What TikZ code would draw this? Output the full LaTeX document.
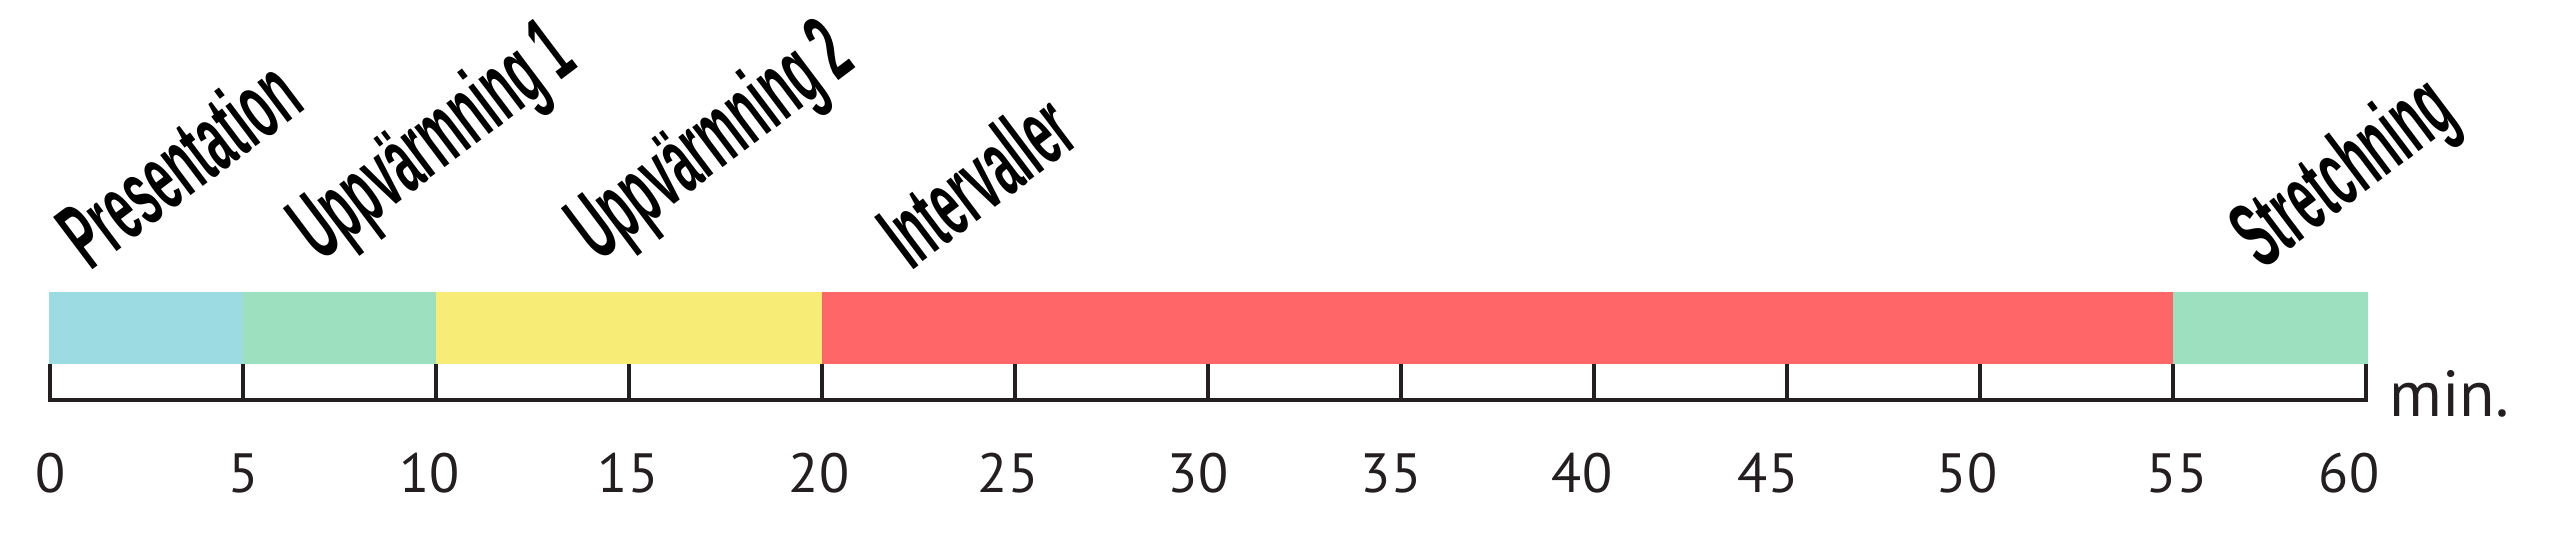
\documentclass[tikz,border=0pt]{standalone}
\usepackage{fontspec}
\setmainfont{PT Sans}
\newfontfamily\labfont{Liberation Sans}[FakeStretch=0.47]
\definecolor{segcyan}{HTML}{9BDBE1}
\definecolor{seggreen}{HTML}{9CE0C0}
\definecolor{segyellow}{HTML}{F7EC76}
\definecolor{segred}{HTML}{FE6668}
\definecolor{ink}{HTML}{231F20}
\begin{document}
\begin{tikzpicture}[x=0.3pt,y=-0.3pt,
  lab/.style={font=\labfont\bfseries\fontsize{28.5pt}{30pt}\selectfont, anchor=base west, inner sep=0pt, outer sep=0pt, rotate=37, text=black},
  num/.style={font=\fontsize{16.6pt}{18pt}\selectfont, anchor=base, inner sep=0pt, text=ink},
  unitlab/.style={font=\fontsize{19.5pt}{21pt}\selectfont, anchor=base west, inner sep=0pt, text=ink},
  axisline/.style={draw=ink, line width=1.05pt, line join=miter}]
\useasboundingbox (0,0) rectangle (2560,558);
\foreach \i in {0,...,12} {
  \coordinate (top\i) at ({50+193*\i},364);
  \coordinate (bot\i) at ({50+193*\i},400);
}
% coloured segments
\fill[segcyan]   (48.5,292) rectangle (243,364);
\fill[seggreen]  (243,292) rectangle (436,364);
\fill[segyellow] (436,292) rectangle (822,364);
\fill[segred]    (822,292) rectangle (2173,364);
\fill[seggreen]  (2173,292) rectangle (2368,364);
% axis and ticks
\draw[axisline] (top0) -- (bot0) -- (bot12) -- (top12);
\foreach \i in {1,...,11} \draw[axisline] (top\i) -- (bot\i);
% numbers
\foreach \v/\x in {0/50.6, 5/244, 10/429.5, 15/628, 20/819, 25/1008, 30/1198, 35/1391, 40/1582, 45/1768, 50/1967, 55/2177, 60/2349}
  \node[num] (n\v) at (\x,492) {\v};
\node[unitlab] (unit) at (2389,416) {min.};
% rotated labels
\node[lab] (lpres) at (91,271) {Presentation};
\node[lab] (lupp1) at (320,262) {Uppvärmning 1};
\node[lab] (lupp2) at (598,262) {Uppvärmning 2};
\node[lab] (lint) at (911,271) {Intervaller};
\node[lab] (lstr) at (2262,270) {Stretchning};
\end{tikzpicture}
\end{document}
